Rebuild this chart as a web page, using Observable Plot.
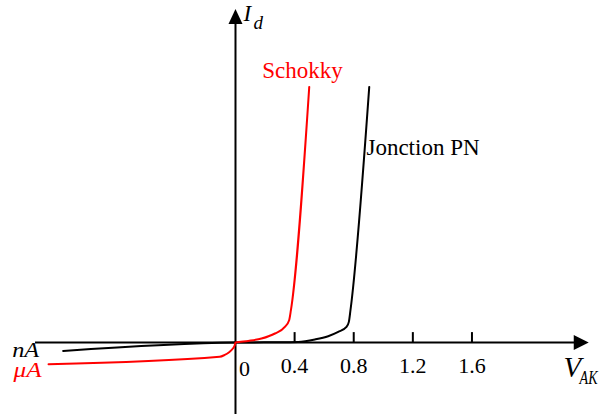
<!DOCTYPE html>
<html>
<head>
<meta charset="utf-8">
<script src="https://cdn.jsdelivr.net/npm/d3@7"></script>
<script src="https://cdn.jsdelivr.net/npm/@observablehq/plot@0.6"></script>
<style>
  html, body { margin: 0; padding: 0; background: #fff; }
</style>
</head>
<body>
<div id="chart"></div>
<script>
// Voltage ticks on the V_AK axis (volts)
const xTicks = [0.4, 0.8, 1.2, 1.6];
const xTickLabels = ["0.4", "0.8", "1.2", "1.6"];

// Schottky diode: reverse branch (µA leakage) then forward branch, I in arbitrary units
const schottkyV = [-1.265, -0.107, -0.076, -0.043, -0.019, -0.005, 0, 0.086, 0.176, 0.267, 0.334, 0.363, 0.375, 0.499];
const schottkyI = [-7.23, -4.77, -4.23, -3.23, -2.07, -0.9, 0, 0.53, 1.33, 3.0, 5.2, 7.43, 10.77, 85.2];

// PN junction diode: reverse branch (nA leakage) then forward branch
const pnV = [-1.166, 0, 0.255, 0.424, 0.537, 0.627, 0.695, 0.751, 0.767, 0.778, 0.905];
const pnI = [-2.8, 0, 0.07, 0.2, 1.0, 2.1, 3.53, 5.2, 6.87, 10.77, 85.2];

// Extent of the hand-drawn axes
const xAxisExtent = [-1.353, 2.39];
const yAxisExtent = [-24, 111.2];

const schottky = schottkyV.map((v, k) => ({v, i: schottkyI[k]}));
const pn = pnV.map((v, k) => ({v, i: pnI[k]}));

// Filled arrowheads, tip at the symbol origin
const arrowRight = {draw(ctx) { ctx.moveTo(0, 0); ctx.lineTo(-15, -7.5); ctx.lineTo(-15, 7.5); ctx.closePath(); }};
const arrowUp = {draw(ctx) { ctx.moveTo(0, 0); ctx.lineTo(-7, 15); ctx.lineTo(7, 15); ctx.closePath(); }};

const serif = "Liberation Serif";
const label = (extra) => ({text: d => d, fontFamily: serif, textAnchor: "start", lineAnchor: "bottom", ...extra});

const chart = Plot.plot({
  width: 603,
  height: 414,
  margin: 0,
  x: {domain: [-1.59, 2.49], axis: null},
  y: {domain: [-24, 114], axis: null},
  style: {background: "#fff", fontFamily: serif, overflow: "visible"},
  marks: [
    // axes
    Plot.ruleY([0], {x1: xAxisExtent[0], x2: xAxisExtent[1] - 0.05, stroke: "#000", strokeWidth: 2}),
    Plot.ruleX([0], {y1: yAxisExtent[0], y2: yAxisExtent[1] - 3, stroke: "#000", strokeWidth: 2}),
    Plot.dot([0], {x: xAxisExtent[1], y: 0, symbol: arrowRight, fill: "#000", stroke: "none"}),
    Plot.dot([0], {x: 0, y: yAxisExtent[1], symbol: arrowUp, fill: "#000", stroke: "none"}),
    // tick marks and labels
    Plot.ruleX(xTicks, {x: d => d, y1: 0, y2: 3.3, stroke: "#000", strokeWidth: 2}),
    Plot.text(xTicks, {x: d => d, y: -10, text: (d, k) => xTickLabels[k], fontFamily: serif, fontSize: 22, lineAnchor: "bottom", textAnchor: "middle", fill: "#000"}),
    Plot.text([0], {x: 0, y: -11, dx: 9, text: d => String(d), fontFamily: serif, fontSize: 22, lineAnchor: "bottom", textAnchor: "middle", fill: "#000"}),
    // characteristic curves
    Plot.line(pn, {x: "v", y: "i", stroke: "#000", strokeWidth: 2, curve: "monotone-x", strokeLinejoin: "round"}),
    Plot.line(schottky, {x: "v", y: "i", stroke: "#ff0000", strokeWidth: 2, curve: "monotone-x", strokeLinejoin: "round"}),
    // curve names
    Plot.text(["Schokky"], label({x: 0.181, y: 88.3, fontSize: 23, fill: "#ff0000"})),
    Plot.text(["Jonction PN"], label({x: 0.886, y: 62.4, fontSize: 23, fill: "#000"})),
    // leakage current units
    Plot.text(["nA"], label({x: -1.511, y: -4.8, fontSize: 21, fontStyle: "italic", fill: "#000"})),
    Plot.text(["μA"], label({x: -1.502, y: -11.5, fontSize: 21, fontStyle: "italic", fill: "#ff0000"})),
    // axis names
    Plot.text(["I"], label({x: 0.054, y: 107.3, fontSize: 23, fontStyle: "italic", fill: "#000"})),
    Plot.text(["d"], label({x: 0.122, y: 104.6, fontSize: 19, fontStyle: "italic", fill: "#000"})),
    Plot.text(["V"], label({x: 2.219, y: -11.6, fontSize: 29, fontStyle: "italic", fill: "#000"})),
    Plot.text(["AK"], label({x: 2.328, y: -13.8, fontSize: 18, fontStyle: "italic", fill: "#000"}))
  ]
});

// Italic math glyphs: condense the V subscript, widen the unit labels slightly
const textLengths = {"AK": 18, "nA": 27, "μA": 28};
d3.select(chart).selectAll("text")
  .filter(function() { return this.textContent in textLengths; })
  .attr("textLength", function() { return textLengths[this.textContent]; })
  .attr("lengthAdjust", "spacingAndGlyphs");

document.getElementById("chart").append(chart);
</script>
</body>
</html>
